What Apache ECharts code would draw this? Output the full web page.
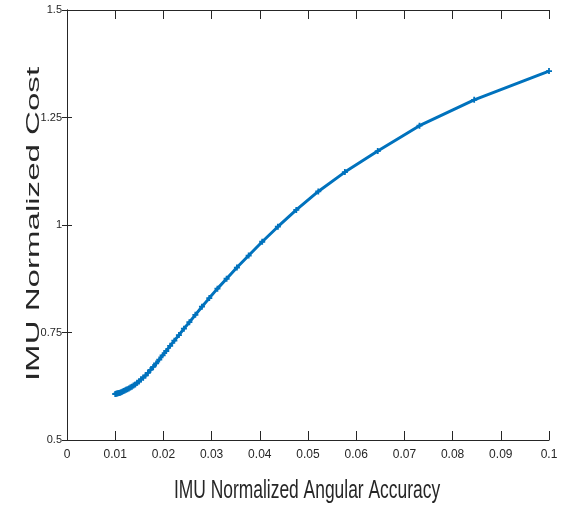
<!DOCTYPE html>
<html>
<head>
<meta charset="utf-8">
<script src="https://cdn.jsdelivr.net/npm/echarts@6/dist/echarts.min.js"></script>
<style>
  html, body { margin: 0; padding: 0; background: #fff; }
  #chart { width: 564px; height: 512px; }
</style>
</head>
<body>
<div id="chart"></div>
<script>
// values
const accuracy = [
  0.1, 0.08448, 0.07313, 0.06447, 0.05765, 0.05213, 0.04757, 0.04375, 0.0405, 0.03769,
  0.03525, 0.03311, 0.03121, 0.02952, 0.028, 0.02663, 0.02539, 0.02426, 0.02322, 0.02227,
  0.0214, 0.02059, 0.01984, 0.01914, 0.01849, 0.01788, 0.01731, 0.01678, 0.01628, 0.01581,
  0.01536, 0.01494, 0.01454, 0.01416, 0.0138, 0.01346, 0.01314, 0.01283, 0.01253, 0.01225,
  0.01198, 0.01172, 0.01148, 0.01124, 0.01101, 0.01079, 0.01058, 0.01038, 0.01019, 0.01
]
const cost = [
  1.358, 1.291, 1.231, 1.172, 1.123, 1.078, 1.035, 0.996, 0.961, 0.929,
  0.901, 0.875, 0.852, 0.830, 0.810, 0.791, 0.774, 0.759, 0.744, 0.731,
  0.719, 0.707, 0.697, 0.687, 0.678, 0.670, 0.663, 0.656, 0.650, 0.645,
  0.641, 0.636, 0.633, 0.629, 0.627, 0.624, 0.622, 0.620, 0.618, 0.617,
  0.615, 0.614, 0.612, 0.611, 0.610, 0.6094, 0.6087, 0.6081, 0.6076, 0.607
]
const xTitle = 'IMU Normalized Angular Accuracy'
const yTitle = 'IMU Normalized Cost'

const tickFont = "'Liberation Sans', Arial, sans-serif"
const blue = '#0072BD'

const myChart = echarts.init(document.getElementById('chart'), null, { renderer: 'canvas' })

const xBase = {
  type: 'value', min: 0, max: 0.1, interval: 0.01,
  axisLine: { show: true, lineStyle: { color: '#262626', width: 1 } },
  axisTick: { show: true, inside: true, length: 9, lineStyle: { color: '#262626' } },
  splitLine: { show: false }
}
const yBase = {
  type: 'value', min: 0.5, max: 1.5, interval: 0.25,
  axisLine: { show: true, lineStyle: { color: '#262626', width: 1 } },
  axisTick: { show: true, inside: true, length: 5, lineStyle: { color: '#262626' } },
  splitLine: { show: false }
}

myChart.setOption({
  backgroundColor: '#fff',
  animation: false,
  grid: { left: 67, right: 15, top: 10, bottom: 72, containLabel: false },
  xAxis: [
    Object.assign({}, xBase, {
      position: 'bottom',
      axisLabel: {
        margin: 9, color: '#262626', fontSize: 12, fontFamily: tickFont,
        formatter: v => String(+v.toFixed(2))
      }
    }),
    Object.assign({}, xBase, { position: 'top', axisLabel: { show: false } })
  ],
  yAxis: [
    Object.assign({}, yBase, {
      position: 'left',
      axisLabel: {
        margin: 5, color: '#262626', fontSize: 11, fontFamily: tickFont,
        formatter: v => String(+v.toFixed(2))
      }
    }),
    Object.assign({}, yBase, { position: 'right', axisLabel: { show: false } })
  ],
  series: [{
    type: 'line',
    data: accuracy.map((x, i) => [x, cost[i]]),
    showSymbol: true,
    symbol: 'path://M-1,-0.3H1V0.3H-1Z M-0.3,-1H0.3V1H-0.3Z',
    symbolSize: 6,
    lineStyle: { color: blue, width: 3 },
    itemStyle: { color: blue },
    z: 3
  }],
  graphic: [
    {
      type: 'text',
      x: 307, y: 491,
      scaleX: 0.67,
      style: {
        text: xTitle, fill: '#262626',
        font: "26px 'Liberation Sans', Arial, sans-serif",
        align: 'center', verticalAlign: 'middle'
      }
    },
    {
      type: 'text',
      x: 34, y: 224,
      rotation: Math.PI / 2,
      scaleX: 1.74,
      style: {
        text: yTitle, fill: '#262626',
        font: "19px 'Liberation Sans', Arial, sans-serif",
        align: 'center', verticalAlign: 'middle'
      }
    }
  ]
})
</script>
</body>
</html>
